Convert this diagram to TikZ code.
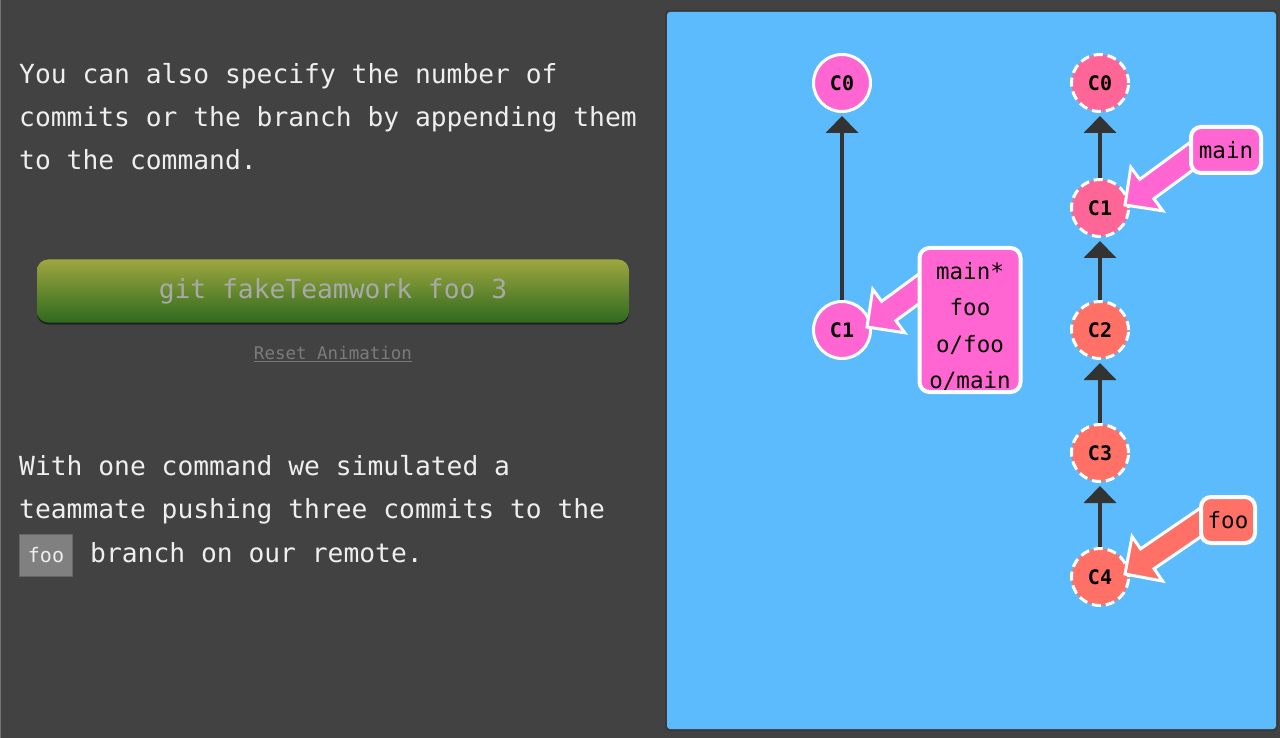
\documentclass[tikz,border=0pt]{standalone}
\usepackage{fontspec}
\setmonofont{DejaVu Sans Mono}
\usetikzlibrary{arrows.meta,positioning,calc,shadows}

\definecolor{pagebg}{HTML}{424242}
\definecolor{panelblue}{HTML}{5CBBFC}
\definecolor{textlight}{HTML}{EEEEEE}
\definecolor{btntop}{HTML}{9EA63F}
\definecolor{btnbottom}{HTML}{2E6A1E}
\definecolor{btntext}{HTML}{A9A9A9}
\definecolor{linkgray}{HTML}{7B7B7B}
\definecolor{codegray}{HTML}{808080}
\definecolor{edgegray}{HTML}{333333}
\definecolor{mainpink}{HTML}{FF66D2}
\definecolor{originpink}{HTML}{FF6698}
\definecolor{foosalmon}{HTML}{FF7066}

\pgfdeclarelayer{panel}
\pgfdeclarelayer{commits}
\pgfdeclarelayer{pointers}
\pgfsetlayers{panel,commits,pointers,main}

% fat branch pointer: #1 tail, #2 tip, #3 colour
\newcommand{\branchptr}[3]{%
  \draw[white, line width=3pt, line join=miter, fill=#3]
    (#2) -- ($(#2)!27pt!(#1)!27pt!90:(#1)$) -- ($(#2)!27pt!(#1)!12pt!90:(#1)$)
    -- ($(#1)!12pt!-90:(#2)$) -- ($(#1)!12pt!90:(#2)$)
    -- ($(#2)!27pt!(#1)!12pt!-90:(#1)$) -- ($(#2)!27pt!(#1)!27pt!-90:(#1)$) -- cycle;
}

\begin{document}
\begin{tikzpicture}[
    x = 1pt, y = -1pt, % pixel grid, y downwards
    node distance = 62pt,
    textline/.style = {anchor=base west, inner sep=0pt, text=textlight,
      font=\ttfamily\fontsize{26.3}{30}\selectfont},
    commit/.style = {circle, draw=white, line width=3pt, minimum size=57pt,
      inner sep=0pt, font=\ttfamily\bfseries\fontsize{20}{22}\selectfont},
    origincommit/.style = {commit, dash pattern=on 9pt off 5pt},
    branchbox/.style = {draw=white, line width=4pt, rounded corners=10pt,
      inner sep=0pt, align=center, font=\ttfamily\fontsize{22.5}{36.5}\selectfont},
    edge/.style = {draw=edgegray, line width=4pt, shorten >=3pt,
      -{Triangle[width=32pt,length=17pt]}}
    ]

    % page and panel
    \useasboundingbox (0,0) rectangle (1280,738);
    \begin{pgfonlayer}{panel}
    \fill[pagebg] (0,0) rectangle (1280,738);
    \draw[black!55, line width=1pt] (0.5,0) -- (0.5,738);
    \fill[black!12!pagebg, rounded corners=4pt] (665,10) rectangle (1278,731);
    \fill[panelblue, rounded corners=3pt] (667,12) rectangle (1276,729);
    \end{pgfonlayer}

    % left column text
    \node[textline] (introA) at (19,84) {You can also specify the number of};
    \node[textline] (introB) at (19,127) {commits or the branch by appending them};
    \node[textline] (introC) at (19,170) {to the command.};

    \node[rounded corners=11pt, top color=btntop, bottom color=btnbottom,
      minimum width=592pt, minimum height=63pt,
      drop shadow={shadow xshift=0pt, shadow yshift=-2pt, fill=black, opacity=.5},
      text=btntext, font=\ttfamily\fontsize{26.3}{30}\selectfont]
      (cmdButton) at (333,291) {git fakeTeamwork foo 3};
    \node[text=linkgray, font=\ttfamily\fontsize{17.5}{20}\selectfont]
      (resetLink) [below=20pt of cmdButton] {\underline{Reset Animation}};

    \node[textline] (outroA) at (19,475) {With one command we simulated a};
    \node[textline] (outroB) at (19,518) {teammate pushing three commits to the};
    \node[fill=codegray, draw=black!60, line width=1pt, minimum width=53pt,
      minimum height=42pt, inner sep=0pt, text=textlight,
      font=\ttfamily\fontsize{20}{24}\selectfont] (fooCode) at (46,555) {foo};
    \node[textline] (outroC) at (90,562) {branch on our remote.};

    % local repo
    \begin{pgfonlayer}{commits}
    \node[commit, fill=mainpink] (lc0) at (842,83) {C0};
    \node[commit, fill=mainpink] (lc1) [below=187pt of lc0] {C1};
    \path[edge] (lc1) -- (lc0);

    % remote repo
    \node[origincommit, fill=originpink] (rc0) at (1100,83) {C0};
    \node[origincommit, fill=originpink] (rc1) [below=65pt of rc0] {C1};
    \node[origincommit, fill=foosalmon] (rc2) [below=of rc1] {C2};
    \node[origincommit, fill=foosalmon] (rc3) [below=63pt of rc2] {C3};
    \node[origincommit, fill=foosalmon] (rc4) [below=64pt of rc3] {C4};
    \path[edge] (rc1) -- (rc0);
    \path[edge] (rc2) -- (rc1);
    \path[edge] (rc3) -- (rc2);
    \path[edge] (rc4) -- (rc3);
    \end{pgfonlayer}

    % branch labels
    \node[branchbox, fill=mainpink, minimum width=101pt, minimum height=144pt]
      (localRefs) at (970,320) {\rule{0pt}{30pt}main*\\foo\\o/foo\\o/main};
    \node[branchbox, fill=mainpink, minimum width=70pt, minimum height=46pt]
      (remoteMain) at (1226,150) {main};
    \node[branchbox, fill=foosalmon, minimum width=54pt, minimum height=46pt]
      (remoteFoo) at (1228,520) {foo};

    \coordinate (localTail) at ($(localRefs.north west)+(23,27)$);
    \coordinate (localTip) at ($(lc1.center)+(25,-3)$);
    \coordinate (mainTail) at ($(remoteMain.west)+(11,0)$);
    \coordinate (mainTip) at ($(rc1.center)+(25,-3)$);
    \coordinate (fooTail) at ($(remoteFoo.west)+(8,-2)$);
    \coordinate (fooTip) at ($(rc4.center)+(25,-3)$);

    \begin{pgfonlayer}{pointers}
    \branchptr{localTail}{localTip}{mainpink}
    \branchptr{mainTail}{mainTip}{mainpink}
    \branchptr{fooTail}{fooTip}{foosalmon}
    \end{pgfonlayer}
\end{tikzpicture}
\end{document}
